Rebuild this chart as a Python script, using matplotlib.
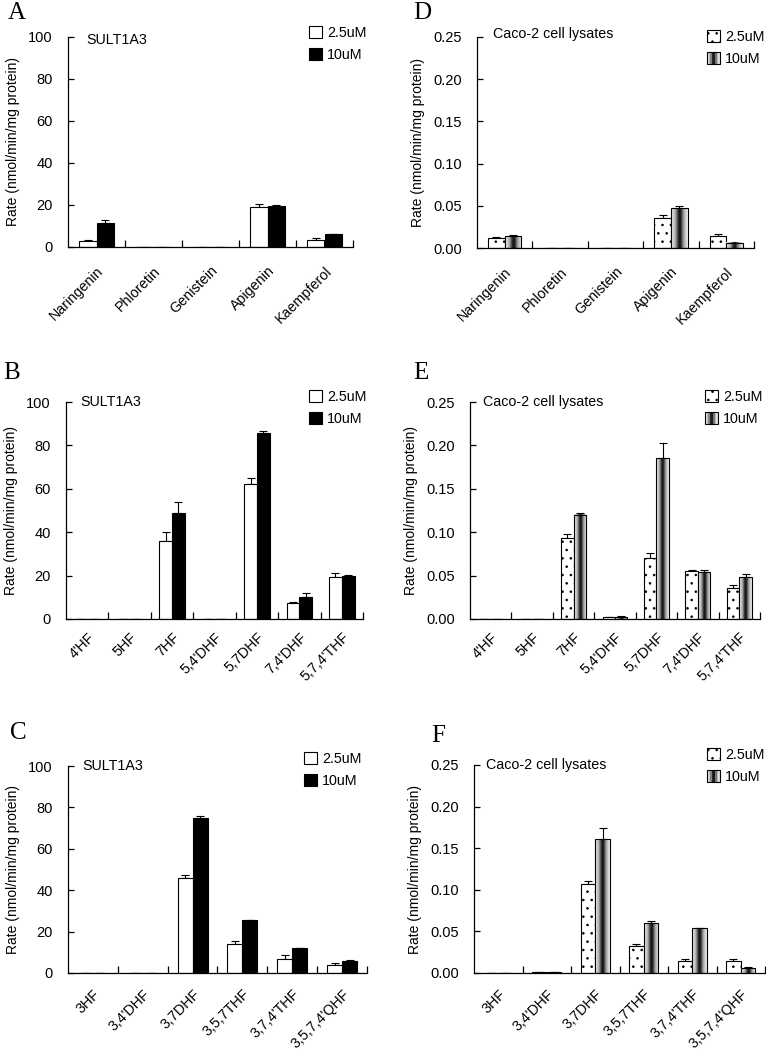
import numpy as np
import matplotlib
matplotlib.use("Agg")
import matplotlib.pyplot as plt
import matplotlib.transforms as mtransforms
from matplotlib.colors import LinearSegmentedColormap
from matplotlib.legend_handler import HandlerBase
from matplotlib.patches import Rectangle, Patch

plt.rcParams['font.family'] = ['Liberation Sans', 'DejaVu Sans']
plt.rcParams['hatch.linewidth'] = 0.6

# ---------------- data ----------------
cats_A = ["Naringenin", "Phloretin", "Genistein", "Apigenin", "Kaempferol"]
A_low = [3.0, 0, 0, 19.0, 3.5]
A_low_err = [0.5, 0, 0, 1.5, 1.0]
A_high = [11.5, 0, 0, 19.3, 6.0]
A_high_err = [1.5, 0, 0, 0.5, 0.1]

D_low = [0.012, 0, 0, 0.036, 0.014]
D_low_err = [0.001, 0, 0, 0.003, 0.002]
D_high = [0.014, 0, 0, 0.047, 0.006]
D_high_err = [0.001, 0, 0, 0.003, 0.001]

cats_B = ["4'HF", "5HF", "7HF", "5,4'DHF", "5,7DHF", "7,4'DHF", "5,7,4'THF"]
B_low = [0, 0, 36.0, 0, 62.0, 7.5, 19.5]
B_low_err = [0, 0, 4.0, 0, 3.0, 0.5, 1.5]
B_high = [0, 0, 49.0, 0, 85.5, 10.0, 19.7]
B_high_err = [0, 0, 5.0, 0, 1.0, 2.0, 0.4]

E_low = [0, 0, 0.093, 0.002, 0.070, 0.055, 0.036]
E_low_err = [0, 0, 0.005, 0.0005, 0.006, 0.002, 0.003]
E_high = [0, 0, 0.120, 0.002, 0.185, 0.054, 0.048]
E_high_err = [0, 0, 0.002, 0.001, 0.018, 0.003, 0.004]

cats_C = ["3HF", "3,4'DHF", "3,7DHF", "3,5,7THF", "3,7,4'THF", "3,5,7,4'QHF"]
C_low = [0, 0, 46.0, 14.0, 7.0, 3.7]
C_low_err = [0, 0, 1.5, 1.5, 1.5, 1.3]
C_high = [0, 0, 75.0, 25.5, 12.0, 5.8]
C_high_err = [0, 0, 1.0, 0.3, 0.3, 0.3]

F_low = [0, 0.001, 0.107, 0.033, 0.014, 0.014]
F_low_err = [0, 0, 0.004, 0.002, 0.003, 0.003]
F_high = [0, 0.001, 0.161, 0.060, 0.054, 0.006]
F_high_err = [0, 0, 0.013, 0.003, 0.0, 0.001]

legend_labels = ["2.5uM", "10uM"]

# ---------------- style ----------------
W, H = 766, 1050
fig = plt.figure(figsize=(W / 100, H / 100), dpi=100)

grad_cmap = LinearSegmentedColormap.from_list(
    "cyl", [(0.0, "#f4f4f4"), (0.25, "#b0b0b0"), (0.45, "#202020"),
            (0.55, "#101010"), (0.75, "#a0a0a0"), (1.0, "#f4f4f4")])
grad = np.linspace(0, 1, 64).reshape(1, -1)
DOTS = '..'


class GradHandler(HandlerBase):
    def create_artists(self, legend, orig_handle, xdescent, ydescent,
                       width, height, fontsize, trans):
        arts = []
        n = 8
        for i in range(n):
            c = grad_cmap((i + 0.5) / n)
            r = Rectangle((-xdescent + width * i / n, -ydescent), width / n, height,
                          facecolor=c, edgecolor='none', transform=trans)
            arts.append(r)
        arts.append(Rectangle((-xdescent, -ydescent), width, height, facecolor='none',
                              edgecolor='black', lw=0.8, transform=trans))
        return arts


def px_axes(x0, y0, x1, y1):
    return fig.add_axes([x0 / W, 1 - y1 / H, (x1 - x0) / W, (y1 - y0) / H])


def panel(rect, cats, low, lowe, high, highe, ymax, yticks, fmt, title, title_xy,
          caco, leg_xy, letter, letter_xy, xpad):
    ax = px_axes(*rect)
    n = len(cats)
    x = np.arange(n)
    w = 0.3
    ekw = dict(ecolor='black', elinewidth=0.8, capsize=3, capthick=0.8)
    zeros = np.zeros(n)
    if caco:
        ax.bar(x - w / 2, low, w, color='white', edgecolor='black', lw=0.8,
               hatch=DOTS, zorder=2)
        b2 = ax.bar(x + w / 2, high, w, color='none', edgecolor='black', lw=0.8,
                    zorder=3)
        for p in b2:
            if p.get_height() > 0:
                ax.imshow(grad, cmap=grad_cmap, aspect='auto', zorder=2,
                          extent=(p.get_x(), p.get_x() + p.get_width(), 0, p.get_height()),
                          interpolation='bilinear')
    else:
        ax.bar(x - w / 2, low, w, color='white', edgecolor='black', lw=0.8, zorder=2)
        ax.bar(x + w / 2, high, w, color='black', edgecolor='black', lw=0.8, zorder=2)
    ax.errorbar(x - w / 2, low, yerr=[zeros, lowe], fmt='none', zorder=1.5, **ekw)
    ax.errorbar(x + w / 2, high, yerr=[zeros, highe], fmt='none', zorder=1.5, **ekw)

    ax.set_xlim(-0.5, n - 0.5)
    ax.set_ylim(0, ymax)
    ax.set_yticks(yticks)
    ax.set_yticklabels([fmt.format(v) for v in yticks], fontsize=10.5)
    ax.set_xticks(np.arange(n) + 0.5)
    ax.set_xticklabels([])
    ax.set_xticks(x, minor=True)
    labs = ax.set_xticklabels(cats, minor=True, rotation=45, ha='right',
                              rotation_mode='anchor', fontsize=10.3)
    off = mtransforms.ScaledTranslation(-4 / 100, 0, fig.dpi_scale_trans)
    for t in labs:
        t.set_transform(t.get_transform() + off)
    ax.tick_params(axis='x', which='major', direction='in', length=5, width=0.9)
    ax.tick_params(axis='x', which='minor', length=0, pad=xpad)
    ax.tick_params(axis='y', direction='in', length=4, width=0.9, pad=11)
    for s in ['top', 'right']:
        ax.spines[s].set_visible(False)
    for s in ['left', 'bottom']:
        ax.spines[s].set_linewidth(0.9)
    ax.set_ylabel("Rate (nmol/min/mg protein)", fontsize=10, labelpad=6)
    ax.text(title_xy[0], title_xy[1], title, transform=ax.transAxes, fontsize=10.3,
            va='center', ha='left')

    if caco:
        h1 = Patch(facecolor='white', edgecolor='black', hatch=DOTS, lw=0.8)
        h2 = Patch(facecolor='gray', edgecolor='black')
        hm = {h2: GradHandler()}
    else:
        h1 = Patch(facecolor='white', edgecolor='black', lw=0.8)
        h2 = Patch(facecolor='black', edgecolor='black', lw=0.8)
        hm = {}
    fig.legend([h1, h2], legend_labels, loc='upper left',
               bbox_to_anchor=(leg_xy[0] / W, 1 - leg_xy[1] / H),
               frameon=False, fontsize=10.3, handlelength=0.9, handleheight=0.9,
               handletextpad=0.35, labelspacing=0.55, borderpad=0,
               borderaxespad=0, handler_map=hm)
    fig.text(letter_xy[0] / W, 1 - letter_xy[1] / H, letter, fontsize=18,
             family=['Liberation Serif', 'DejaVu Serif'], va='top', ha='left')
    return ax


yt1 = [0, 20, 40, 60, 80, 100]
yt2 = [0.0, 0.05, 0.10, 0.15, 0.20, 0.25]

panel((68, 37, 353, 247), cats_A, A_low, A_low_err, A_high, A_high_err, 100, yt1,
      "{:.0f}", "SULT1A3", (0.065, 0.985), False, (309, 26), "A", (8, 2), 12)
panel((477, 37, 754, 248), cats_A, D_low, D_low_err, D_high, D_high_err, 0.25, yt2,
      "{:.2f}", "Caco-2 cell lysates", (0.058, 1.012), True, (707, 30), "D", (413, 2), 12)
panel((66, 402, 363, 619), cats_B, B_low, B_low_err, B_high, B_high_err, 100, yt1,
      "{:.0f}", "SULT1A3", (0.047, 1.0), False, (309, 390), "B", (3, 362), 8)
panel((470, 402, 760, 619), cats_B, E_low, E_low_err, E_high, E_high_err, 0.25, yt2,
      "{:.2f}", "Caco-2 cell lysates", (0.045, 1.0), True, (705, 390), "E", (413, 362), 8)
panel((68, 766, 367, 973), cats_C, C_low, C_low_err, C_high, C_high_err, 100, yt1,
      "{:.0f}", "SULT1A3", (0.047, 1.0), False, (304, 752), "C", (10, 722), 10)
panel((474, 765, 765, 973), cats_C, F_low, F_low_err, F_high, F_high_err, 0.25, yt2,
      "{:.2f}", "Caco-2 cell lysates", (0.041, 1.0), True, (707, 748), "F", (431, 725), 10)

fig.savefig("out.png", dpi=100, facecolor='white')
